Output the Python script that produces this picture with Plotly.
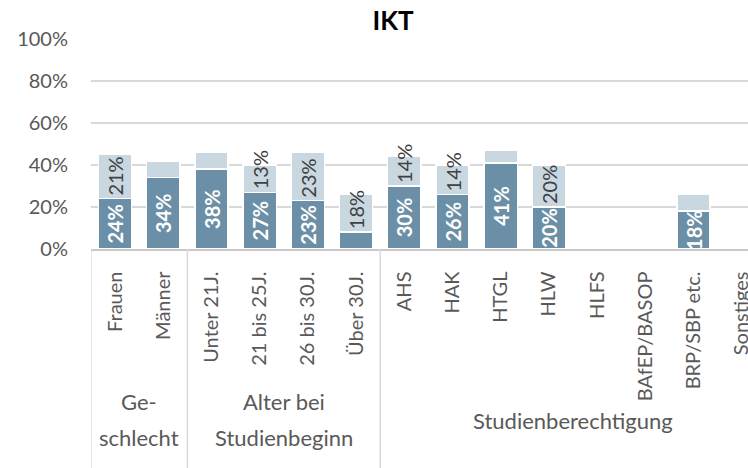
import plotly.graph_objects as go

# ---- data ----
categories = ["Frauen", "Männer", "Unter 21J.", "21 bis 25J.", "26 bis 30J.", "Über 30J.",
              "AHS", "HAK", "HTGL", "HLW", "HLFS", "BAfEP/BASOP", "BRP/SBP etc.", "Sonstiges"]
dark_values = [24, 34, 38, 27, 23, 8, 30, 26, 41, 20, None, None, 18, None]
light_values = [21, 8, 8, 13, 23, 18, 14, 14, 6, 20, None, None, 8, None]
dark_labels = ["24%", "34%", "38%", "27%", "23%", "", "30%", "26%", "41%", "20%", "", "", "18%", ""]
light_labels = ["21%", "", "", "13%", "23%", "18%", "14%", "14%", "", "20%", "", "", "", ""]
group_names = ["Ge-<br>schlecht", "Alter bei<br>Studienbeginn", "Studienberechtigung"]
group_sizes = [2, 4, 8]
y_ticks = [0, 20, 40, 60, 80, 100]
title_text = "IKT"

# ---- style ----
FONT = "Lato"
DARK = "#6B8FA6"
LIGHT = "#C9D7E1"
GRID = "#D9D9D9"
AXIS = "#C8C8C8"
TXT = "#595959"

W, H = 748, 468
ML, MT = 91, 39
PLOT_BOTTOM = 249
MB = H - PLOT_BOTTOM
plot_h = PLOT_BOTTOM - MT
cat_w = 48.2
x_hi = (W - ML) / cat_w - 0.5

fig = go.Figure()
fig.add_trace(go.Bar(
    x=categories, y=dark_values, text=dark_labels,
    marker=dict(color=DARK, line=dict(color="white", width=1.5)),
    textposition="inside", insidetextanchor="middle", textangle=-90,
    constraintext="none", cliponaxis=False,
    textfont=dict(family=FONT, size=20, color="white", weight="bold"),
    hoverinfo="skip",
))
fig.add_trace(go.Bar(
    x=categories, y=light_values, text=light_labels,
    marker=dict(color=LIGHT, line=dict(color="white", width=1.5)),
    textposition="inside", insidetextanchor="start", textangle=-90,
    constraintext="none", cliponaxis=False,
    textfont=dict(family=FONT, size=20, color="#404040"),
    hoverinfo="skip",
))

# group separators and labels
start = -0.5
sep_positions = [start]
for n in group_sizes:
    start += n
    sep_positions.append(start)
bottom_paper = -(H - PLOT_BOTTOM) / plot_h
for i, sx in enumerate(sep_positions[:-1]):
    fig.add_shape(type="line", xref="x", yref="paper", x0=sx, x1=sx, y0=0, y1=bottom_paper,
                  line=dict(color=GRID, width=1.5), layer="above")

for i, name in enumerate(group_names):
    cx = (sep_positions[i] + sep_positions[i + 1]) / 2
    lines = name.split("<br>")
    if len(lines) == 1:
        centers = [420]
    else:
        centers = [401, 437]
    for ln, cy in zip(lines, centers):
        fig.add_annotation(x=cx, xref="x", y=(PLOT_BOTTOM - cy) / plot_h, yref="paper",
                           text=ln, showarrow=False, xanchor="center", yanchor="middle",
                           font=dict(family=FONT, size=22, color=TXT))

fig.update_layout(
    width=W, height=H,
    margin=dict(l=ML, r=0, t=MT, b=MB, pad=0),
    barmode="stack", bargap=0.31,
    plot_bgcolor="white", paper_bgcolor="white",
    showlegend=False,
    title=dict(text=title_text, x=393 / W, xanchor="center", y=1 - 21 / H, yanchor="middle",
               font=dict(family=FONT, size=26, color="#000000", weight="bold")),
    xaxis=dict(range=[-0.5, x_hi], type="category", tickangle=-90,
               tickfont=dict(family=FONT, size=20, color=TXT),
               showgrid=False, showline=True, linecolor=AXIS, linewidth=1.5,
               ticks="", ticklabelstandoff=13, fixedrange=True, automargin=False),
    yaxis=dict(range=[0, 100], tickvals=y_ticks, ticktext=[f"{v}%" for v in y_ticks],
               tickfont=dict(family=FONT, size=20, color=TXT),
               showgrid=True, gridcolor=GRID, gridwidth=1.5, zeroline=False,
               ticks="", ticklabelstandoff=22, fixedrange=True, automargin=False),
)

fig.write_html("out.html", config={"displayModeBar": False, "staticPlot": True},
               post_script="document.body.style.margin='0';document.body.style.overflow='hidden';")
